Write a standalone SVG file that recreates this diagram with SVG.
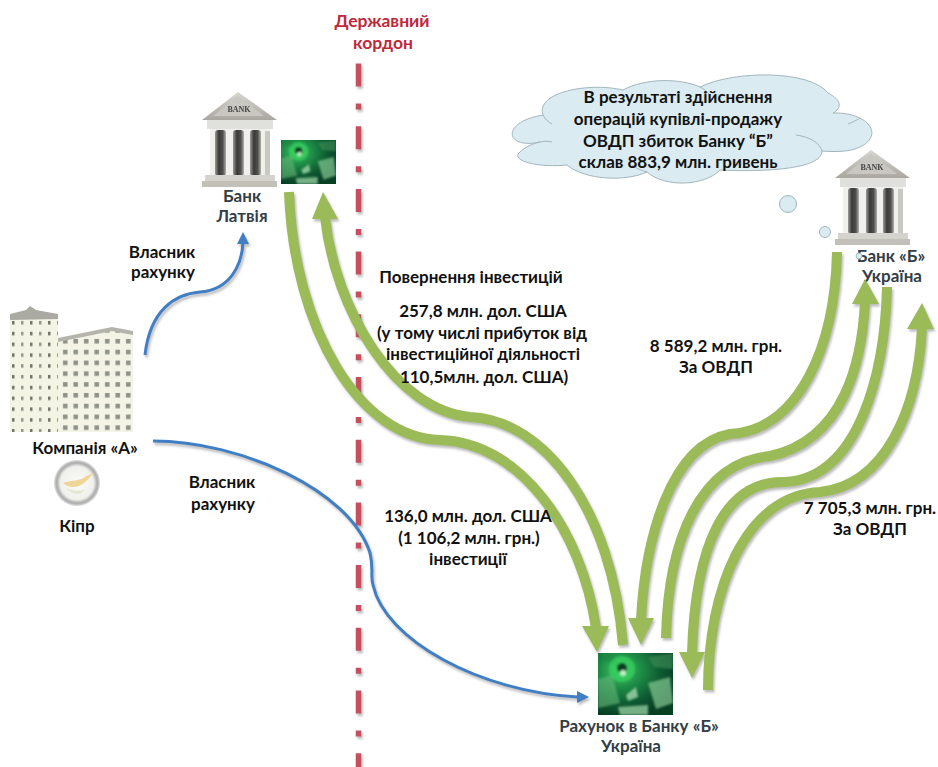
<svg xmlns="http://www.w3.org/2000/svg" width="938" height="767" viewBox="0 0 938 767">
<style>
text{font-family:"Lato","Liberation Sans",sans-serif;font-weight:700;font-size:17px;text-anchor:middle;fill:#111}
.g{fill:#333d47}
.r{fill:#c0293a;font-size:17.500px}
.gs{fill:none;stroke:#9bbb59;stroke-width:10}
.gh{fill:#9bbb59}
.bl{fill:none;stroke:#3f7fc4;stroke-width:3}
.bh{fill:#3f7fc4}
.bubble{fill:#daebf2;stroke:#a3b6bd;stroke-width:1}
.seam{fill:none;stroke:#a3b6bd;stroke-width:1}
</style>
<defs>
<filter id="sh" filterUnits="userSpaceOnUse" x="0" y="0" width="938" height="767"><feDropShadow dx="1.500" dy="2.500" stdDeviation="1.300" flood-color="#777" flood-opacity=".5"/></filter>
<filter id="soft"><feGaussianBlur stdDeviation=".6"/></filter>
<filter id="soft2"><feGaussianBlur stdDeviation="1.200"/></filter>
<linearGradient id="col" x1="0" x2="1" y1="0" y2="0"><stop offset="0" stop-color="#9a9a96"/><stop offset=".35" stop-color="#3a3a38"/><stop offset=".7" stop-color="#4e4e4c"/><stop offset="1" stop-color="#b0b0ab"/></linearGradient>
<linearGradient id="stone" x1="0" x2="0" y1="0" y2="1"><stop offset="0" stop-color="#d8d6d0"/><stop offset="1" stop-color="#a9a7a0"/></linearGradient>
<radialGradient id="mg" cx=".3" cy=".28" r=".75"><stop offset="0" stop-color="#3fc962"/><stop offset=".35" stop-color="#1f9048"/><stop offset=".7" stop-color="#0e5c32"/><stop offset="1" stop-color="#073f23"/></radialGradient>
<radialGradient id="glob" cx=".5" cy=".5" r=".5"><stop offset="0" stop-color="#fbfbf8"/><stop offset=".72" stop-color="#f0f0ed"/><stop offset=".88" stop-color="#a9abaa"/><stop offset="1" stop-color="#dcdddc"/></radialGradient>
<pattern id="w1" width="10.500" height="10.800" patternUnits="userSpaceOnUse" x="60" y="336"><rect width="10.500" height="10.800" fill="#f3f3e6"/><rect x="3" y="3" width="4.500" height="4.500" fill="#8d9188"/></pattern>
<pattern id="w2" width="18" height="10.800" patternUnits="userSpaceOnUse" x="12" y="318"><rect width="18" height="10.800" fill="#f4f4e4"/><rect x="9" y="3" width="2.500" height="3.500" fill="#92968c"/><rect x="0" y="3" width="2.500" height="3.500" fill="#6f736b"/></pattern>
<g id="bank" filter="url(#soft)">
<polygon points="36,0 75,28 0,28" fill="url(#stone)"/>
<polygon points="36,4 62,24 11,24" fill="#c9c7c1"/>
<text x="37" y="20" style="font-family:'Liberation Serif',serif;font-size:8px;fill:#444">BANK</text>
<rect x="5" y="28" width="66" height="9" fill="#e0e0dc"/>
<rect x="8" y="37" width="60" height="47" fill="#f1f0ec"/>
<rect x="13" y="38" width="11" height="46" rx="3" fill="url(#col)"/>
<rect x="31" y="38" width="11" height="46" rx="3" fill="url(#col)"/>
<rect x="48" y="38" width="11" height="46" rx="3" fill="url(#col)"/>
<rect x="63" y="39" width="5" height="44" fill="#c9c9c4"/>
<rect x="3" y="83" width="70" height="6" fill="#d4d3cd"/>
<rect x="0" y="89" width="75" height="6" fill="#c2c0b9"/>
</g>
<symbol id="money" viewBox="0 0 75 62" preserveAspectRatio="none">
<rect width="75" height="62" fill="url(#mg)"/>
<g filter="url(#soft2)">
<polygon points="24,18 0,0 14,0" fill="#1f8a42" opacity=".6"/>
<polygon points="50,4 75,0 75,16 56,14" fill="#3f8f5a" opacity=".6"/>
<polygon points="50,30 72,24 75,50 58,56" fill="#8fd39b" opacity=".65"/>
<polygon points="0,26 14,22 22,50 0,55" fill="#65b879" opacity=".6"/>
<polygon points="20,54 50,52 50,62 22,62" fill="#a3dcab" opacity=".7"/>
<polygon points="28,42 38,34 40,44 30,48" fill="#b8e5bd" opacity=".7"/>
<circle cx="24" cy="16" r="13" fill="#35d25f" opacity=".75"/>
<circle cx="24" cy="15" r="5" fill="#0a3a20"/>
<circle cx="25" cy="20" r="3" fill="#bfeec5"/>
</g>
</symbol>
</defs>
<rect width="938" height="767" fill="#fff"/>

<g id="border">
<path d="M358.500 63.500V767" fill="none" stroke="#c6505d" stroke-width="5.500" stroke-dasharray="23 17 6 16.700" filter="url(#sh)"/>
<text class="r" x="382" y="27">Державний</text>
<text class="r" x="383" y="49">кордон</text>
</g>

<g id="bank-b">
<path class="bubble" d="M543,115C535,92 590,82 623,90C645,78 680,78 700,87C735,70 810,70 828,93C842,100 842,108 833,113C868,112 885,135 860,147C850,152 835,152 822,151C822,170 760,172 720,170C705,186 665,188 647,172C625,182 585,180 567,165C535,168 510,160 520,152C526,146 535,143 540,142C505,150 500,122 543,115Z"/>
<path class="seam" d="M543,115C545,119 548,122 552,124M540,142C544,141 548,141 552,142M700,87C704,89 708,92 710,96M848,124C853,122 857,120 860,118M822,151C820,143 810,137 796,135M647,172C640,170 636,168 632,165"/>
<text x="678" y="103">В результаті здійснення</text>
<text x="678" y="125">операцій купівлі-продажу</text>
<text x="678" y="147">ОВДП збиток Банку “Б”</text>
<text x="678" y="168">склав 883,9 млн. гривень</text>
<circle class="bubble" cx="788" cy="204" r="8.500"/>
<circle class="bubble" cx="825" cy="232" r="5.500"/>
<use href="#bank" x="835" y="150"/>
<text class="g" x="891" y="262">Банк «Б»</text>
<text class="g" x="892" y="282">Україна</text>
<circle class="bubble" cx="859" cy="256" r="3"/>
</g>

<g id="connectors">
<g filter="url(#sh)">
<path class="gs" d="M289,192C294,330 360,438 440,440C520,442 582,530 596,628"/>
<polygon class="gh" points="597,652 582,626 609,626"/>
<path class="gs" d="M623,645C612,510 545,420 470,417C395,410 335,310 325,217"/>
<polygon class="gh" points="323,192 312,219 338,219"/>
<path class="gs" d="M837,252C835,345 800,430 730,434C670,445 645,540 641,620"/>
<polygon class="gh" points="641,645 628,618 654,618"/>
<path class="gs" d="M666,638C668,540 700,462 770,456C845,440 862,360 865,302"/>
<polygon class="gh" points="865,279 852,304 879,304"/>
<path class="gs" d="M887,287C885,370 860,478 785,482C725,480 695,545 692,654"/>
<polygon class="gh" points="692,678 679,652 705,652"/>
<path class="gs" d="M708,690C708,590 745,495 820,492C885,485 918,410 922,327"/>
<polygon class="gh" points="922,303 907,329 934,329"/>
<path class="bl" d="M145,355C150,310 175,294 200,292C230,290 242,265 243,242"/>
<polygon class="bh" points="243,232 237,244 249,244"/>
<path class="bl" d="M153,441C240,441 350,490 370,553C374,570 370,575 373,585C385,640 480,692 578,697"/>
<polygon class="bh" points="589,697 577,691 577,703"/>
</g>
</g>

<g id="bank-latvia">
<use href="#bank" x="202" y="92"/>
<use href="#money" x="281" y="140" width="55" height="44"/>
<text class="g" x="242" y="202">Банк</text>
<text class="g" x="242" y="222">Латвія</text>
</g>

<g id="company-a">
<g filter="url(#soft)">
<polygon points="10,317 26,312 30,307 36,312 58,316 58,432 10,432" fill="url(#w2)"/>
<polygon points="10,314 26,310 30,306 36,310 58,314 58,319 10,320" fill="#aaa9a2"/>
<polygon points="58,340 112,329 133,333 133,432 58,432" fill="url(#w1)"/>
<polygon points="58,338 112,327 133,331 133,335 112,331 58,342" fill="#b5b4ac"/>
</g>
<text x="85" y="454">Компанія «А»</text>
<circle cx="77" cy="483" r="23" fill="url(#glob)"/>
<g filter="url(#soft)">
<path d="M63,483C72,480 80,481 85,477C88,475 91,474 93,473C90,478 85,483 79,486C73,488 67,487 63,483Z" fill="#efd596"/>
<path d="M66,488C72,491 80,492 86,489L80,494C74,494 69,492 66,488Z" fill="#e6e6d4"/>
</g>
<text x="77" y="532">Кіпр</text>
</g>

<g id="account-b">
<use href="#money" x="598" y="653" width="75" height="62"/>
<text class="g" x="639" y="732">Рахунок в Банку «Б»</text>
<text class="g" x="631" y="752">Україна</text>
</g>

<g id="labels">
<text x="162" y="258">Власник</text>
<text x="163" y="278">рахунку</text>
<text x="222" y="488">Власник</text>
<text x="223" y="510">рахунку</text>
<text x="471" y="283">Повернення інвестицій</text>
<text x="483" y="317">257,8 млн. дол. США</text>
<text x="482" y="339">(у тому числі прибуток від</text>
<text x="483" y="360">інвестиційної діяльності</text>
<text x="484" y="383">110,5млн. дол. США)</text>
<text x="716" y="352">8 589,2 млн. грн.</text>
<text x="716" y="373">За ОВДП</text>
<text x="870" y="514">7 705,3 млн. грн.</text>
<text x="870" y="535">За ОВДП</text>
<text x="468" y="522">136,0 млн. дол. США</text>
<text x="469" y="544">(1 106,2 млн. грн.)</text>
<text x="468" y="565">інвестиції</text>
</g>
</svg>
